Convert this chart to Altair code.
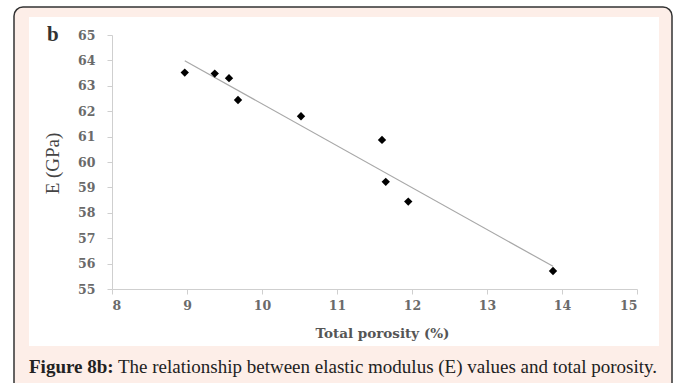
import altair as alt
import pandas as pd

porosity = [8.97, 9.37, 9.56, 9.68, 10.52, 11.60, 11.65, 11.95, 13.88]
modulus = [63.52, 63.48, 63.30, 62.44, 61.80, 60.87, 59.22, 58.44, 55.71]
x_ticks = [8, 9, 10, 11, 12, 13, 14, 15]
y_ticks = [55, 56, 57, 58, 59, 60, 61, 62, 63, 64, 65]

df = pd.DataFrame({"porosity": porosity, "E": modulus})
one = pd.DataFrame({"k": [0]})

SERIF = "Liberation Serif"
WIDE = "DejaVu Serif"
W, H = 525, 254

x_enc = alt.X("porosity:Q", scale=alt.Scale(domain=[8, 15], nice=False, zero=False),
              axis=alt.Axis(values=x_ticks, title="Total porosity (%)", labelFont=WIDE,
                            labelFontSize=12.5, labelFontWeight="bold", labelColor="#6a6a6a",
                            titleFont=WIDE, titleFontSize=13.5, titleFontWeight="bold",
                            titleColor="#555", titleX=270, titleY=44, titleBaseline="middle",
                            domainColor="#cfcfcf",
                            tickColor="#cfcfcf", tickSize=5, labelPadding=5, grid=False,
                            zindex=1))
y_enc = alt.Y("E:Q", scale=alt.Scale(domain=[55, 65], nice=False, zero=False),
              axis=alt.Axis(values=y_ticks, title="E (GPa)", labelFont=WIDE,
                            labelFontSize=12.5, labelFontWeight="bold", labelColor="#6a6a6a",
                            titleFont=SERIF, titleFontSize=19, titleFontWeight="normal",
                            titleColor="#444", titleX=-60, titleY=128, titleBaseline="middle",
                            domainColor="#cfcfcf",
                            tickColor="#cfcfcf", tickSize=5, labelPadding=12, grid=False,
                            zindex=1))

outer = alt.Chart(one).mark_rect(fill="#fdeee8", stroke="#333333", strokeWidth=1.5,
                                 cornerRadius=9).encode(
    x=alt.value(-98), x2=alt.value(560), y=alt.value(-28), y2=alt.value(400))
inner = alt.Chart(one).mark_rect(fill="white").encode(
    x=alt.value(-83), x2=alt.value(547), y=alt.value(-18), y2=alt.value(311))

cap_bold = alt.Chart(one).mark_text(text="Figure 8b:", font=SERIF, fontSize=19,
                                    fontWeight="bold", align="left", baseline="alphabetic",
                                    color="#222").encode(x=alt.value(-83), y=alt.value(338))
cap_norm = alt.Chart(one).mark_text(
    text="The relationship between elastic modulus (E) values and total porosity.",
    font=SERIF, fontSize=19, align="left", baseline="alphabetic",
    color="#222").encode(x=alt.value(6), y=alt.value(338))
b_label = alt.Chart(one).mark_text(text="b", font=SERIF, fontSize=21, fontWeight="bold",
                                   align="left", baseline="alphabetic",
                                   color="#333").encode(x=alt.value(-65), y=alt.value(6))

trend = alt.Chart(df).transform_regression("porosity", "E").mark_line(
    color="#a8a8a8", strokeWidth=1.2).encode(x=x_enc, y=y_enc)
points = alt.Chart(df).mark_point(shape="diamond", filled=True, color="black",
                                  size=70, opacity=1).encode(x=x_enc, y=y_enc)

chart = alt.layer(outer, inner, cap_bold, cap_norm, b_label, trend, points).properties(
    width=W, height=H,
    autosize=alt.AutoSizeParams(type="none"),
    padding={"left": 112, "top": 35, "right": 40, "bottom": 94},
    background="white",
).configure_view(stroke=None)

chart.save("out.html", embed_options={"renderer": "svg", "actions": False})
